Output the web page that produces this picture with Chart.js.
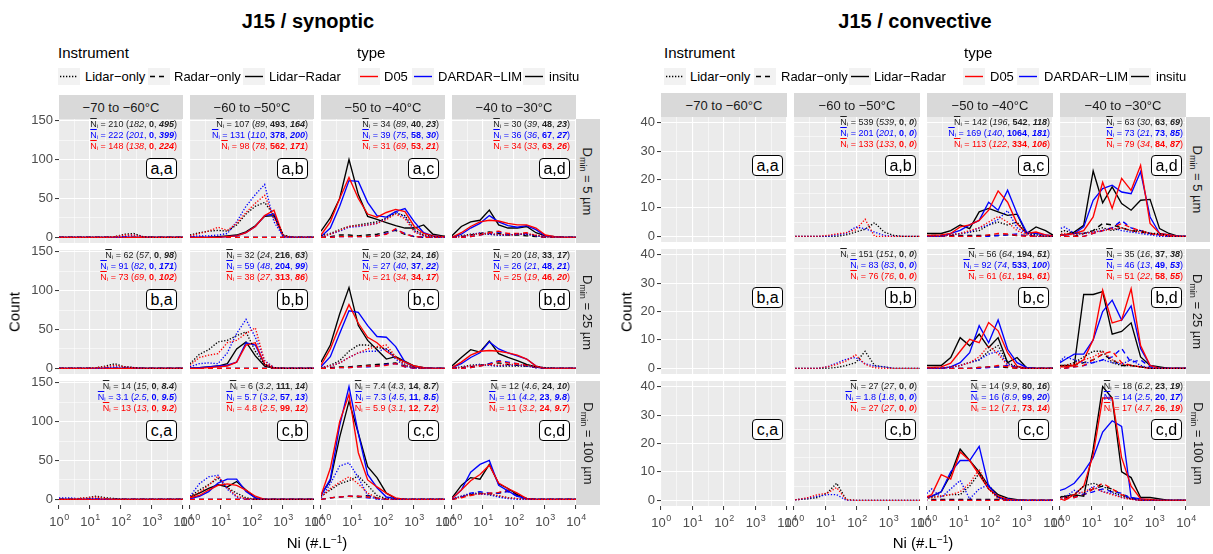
<!DOCTYPE html>
<html>
<head>
<meta charset="utf-8">
<script src="https://cdn.jsdelivr.net/npm/chart.js@4.4.1/dist/chart.umd.min.js"></script>
<style>
  body { margin: 0; width: 1213px; height: 554px; background: #fff; position: relative; overflow: hidden;
         font-family: "Liberation Sans", Arial, sans-serif; color: #000; }
  canvas, .abs { position: absolute; }
  .title { font-weight: bold; font-size: 20px; transform: translate(-50%, -50%); white-space: nowrap; }
  .ltitle { font-size: 15px; transform: translateY(-50%); white-space: nowrap; }
  .ltext { font-size: 13px; transform: translateY(-50%); white-space: nowrap; }
  .key { background: #f2f2f2; }
  .strip { background: #d9d9d9; color: #1a1a1a; font-size: 13px; display: flex; align-items: center; justify-content: center; white-space: nowrap; }
  .rot { display: inline-block; transform: rotate(90deg); white-space: nowrap; }
  .rot sub { font-size: 9px; vertical-align: -3px; line-height: 0; }
  .lab { border: 1px solid #000; border-radius: 4px; background: #fff; font-size: 16px; display: flex;
         align-items: center; justify-content: center; box-sizing: border-box; }
  .ann { font-size: 9px; line-height: 11px; text-align: right; white-space: nowrap; }
  .ann .ov { text-decoration: overline; }
  .ann sub { font-size: 6px; vertical-align: -1px; line-height: 0; }
  .axt { font-size: 15px; white-space: nowrap; transform: translate(-50%, -50%); }
  .axt sup { font-size: 10px; vertical-align: 5px; line-height: 0; }
</style>
</head>
<body>
<script>
// ---- scales / categories ----
const synBins = [1, 2, 4, 8, 16, 32, 64, 128, 256, 512, 1024, 2048, 4096, 8192, 16384];
const convBins = [0.707, 1.414, 2.83, 5.66, 11.3, 22.6, 45.3, 90.5, 181, 362, 724, 1448, 2896, 5793, 11585];
const xGrid = [1, 3.162, 10, 31.62, 100, 316.2, 1000, 3162, 10000];
const xLabels = [1, 10, 100, 1000, 10000];
const synYGrid = [0, 25, 50, 75, 100, 125, 150];
const convYGrid = [0, 5, 10, 15, 20, 25, 30, 35, 40];
const temps = ['\u221270 to \u221260\u00b0C', '\u221260 to \u221250\u00b0C', '\u221250 to \u221240\u00b0C', '\u221240 to \u221230\u00b0C'];
const dmins = ['5', '25', '100'];
const instruments = ['Lidar\u2212only', 'Radar\u2212only', 'Lidar\u2212Radar'];
const types = ['D05', 'DARDAR\u2212LIM', 'insitu'];

const Z = [0,0,0,0,0,0,0,0,0,0,0,0,0,0,0];

// ---- synoptic counts: [Lidar-only, Radar-only, Lidar-Radar] ----
const syn_aa_D05 = [[0,0,0,0,0,0,1,3,3,1,0,0,0,0,0], Z, Z];
const syn_aa_DAR = [[0,0,0,0,0,0,0,1,3,1,0,0,0,0,0], Z, Z];
const syn_aa_ins = [[0,0,0,0,0,0,1,4,5,1,0,0,0,0,0], Z, Z];
const syn_ab_D05 = [[2,5,8,13,9,18,32,44,54,25,2,0,0,0,0], Z, [0,0,0,0,1,2,6,14,28,35,1,0,0,0,0]];
const syn_ab_DAR = [[1,2,2,3,5,20,40,55,68,20,1,0,0,0,0], Z, [0,0,0,0,1,2,6,14,28,30,1,0,0,0,0]];
const syn_ab_ins = [[3,6,8,9,8,16,30,40,45,28,3,0,0,0,0], Z, [0,0,0,1,2,3,7,15,27,28,2,0,0,0,0]];
const syn_ac_D05 = [[1,4,9,14,15,16,18,23,30,24,7,2,0,0,0], [0,0,1,1,1,1,2,4,11,4,1,0,0,0,0], [3,20,50,77,50,30,26,32,36,33,14,5,2,1,0]];
const syn_ac_DAR = [[1,4,8,13,14,16,18,24,33,26,8,2,0,0,0], [0,0,1,1,1,1,2,5,10,5,1,0,0,0,0], [1,12,40,73,72,45,28,26,33,37,20,6,2,1,0]];
const syn_ac_ins = [[2,5,10,14,16,18,20,25,31,28,10,3,1,0,0], [0,1,3,3,2,3,4,7,9,4,1,0,0,0,0], [8,25,50,100,55,27,23,19,15,12,12,16,4,2,0]];
const syn_ad_D05 = [[0,1,3,5,5,4,3,4,5,3,1,0,0,0,0], [0,0,1,3,6,8,5,5,6,2,0,0,0,0,0], [0,6,14,20,22,21,18,16,16,12,3,1,0,0,0]];
const syn_ad_DAR = [[0,1,3,6,4,3,3,4,4,2,1,0,0,0,0], [0,0,1,3,5,7,4,4,5,2,0,0,0,0,0], [0,4,12,18,28,20,15,13,15,10,2,1,0,0,0]];
const syn_ad_ins = [[0,2,4,5,4,3,3,4,4,2,1,0,0,0,0], [0,1,3,5,7,5,3,3,2,1,0,0,0,0,0], [2,14,20,22,35,16,12,12,14,6,2,1,0,0,0]];
const syn_ba_D05 = [[0,0,0,0,1,2,4,2,1,0,0,0,0,0,0], Z, Z];
const syn_ba_DAR = [[0,0,0,0,0,1,2,2,1,0,0,0,0,0,0], Z, Z];
const syn_ba_ins = [[0,0,0,0,1,3,6,2,1,0,0,0,0,0,0], Z, Z];
const syn_bb_D05 = [[4,14,17,19,33,36,45,52,9,1,0,0,0,0,0], Z, [0,0,1,2,3,8,30,33,5,0,0,0,0,0,0]];
const syn_bb_DAR = [[2,6,7,6,20,45,63,40,10,1,0,0,0,0,0], Z, [0,1,2,3,4,8,33,30,5,0,0,0,0,0,0]];
const syn_bb_ins = [[6,18,24,34,36,42,47,22,5,1,0,0,0,0,0], Z, [0,1,2,3,6,25,34,16,3,0,0,0,0,0,0]];
const syn_bc_D05 = [[1,3,7,14,20,25,28,30,15,4,1,0,0,0,0], [0,0,1,1,2,3,3,4,6,2,0,0,0,0,0], [4,25,55,82,58,40,33,22,14,8,3,1,0,0,0]];
const syn_bc_DAR = [[1,3,7,14,20,22,22,25,12,3,0,0,0,0,0], [0,0,1,1,2,2,3,5,6,2,0,0,0,0,0], [2,15,45,74,72,55,41,40,28,8,2,1,0,0,0]];
const syn_bc_ins = [[1,4,10,22,30,30,27,25,15,5,1,0,0,0,0], [0,1,2,2,3,4,5,6,7,3,1,0,0,0,0], [8,30,70,104,55,36,24,12,15,9,3,1,0,0,0]];
const syn_bd_D05 = [[0,1,3,4,5,4,5,5,4,2,0,0,0,0,0], [0,0,1,3,5,9,7,6,4,1,0,0,0,0,0], [1,8,17,22,23,22,20,17,12,3,0,0,0,0,0]];
const syn_bd_DAR = [[0,1,3,5,4,3,4,4,3,1,0,0,0,0,0], [0,0,1,3,6,10,8,6,4,1,0,0,0,0,0], [1,6,14,20,34,25,20,16,12,3,0,0,0,0,0]];
const syn_bd_ins = [[0,2,4,5,4,3,3,3,3,2,1,0,0,0,0], [0,1,2,4,6,7,5,4,3,1,0,0,0,0,0], [3,14,24,21,35,19,14,10,5,2,0,0,0,0,0]];
const syn_ca_D05 = [[0,0,1,2,3,1,0,0,0,0,0,0,0,0,0], Z, Z];
const syn_ca_DAR = [[2,2,1,1,1,0,0,0,0,0,0,0,0,0,0], Z, Z];
const syn_ca_ins = [[0,0,1,2,4,2,1,0,0,0,0,0,0,0,0], Z, Z];
const syn_cb_D05 = [[3,9,18,30,15,4,1,0,0,0,0,0,0,0,0], Z, [2,5,12,18,20,18,12,4,0,0,0,0,0,0,0]];
const syn_cb_DAR = [[4,20,29,31,13,3,0,0,0,0,0,0,0,0,0], Z, [1,4,10,21,26,26,10,2,0,0,0,0,0,0,0]];
const syn_cb_ins = [[4,12,19,27,15,8,2,0,0,0,0,0,0,0,0], Z, [3,8,14,19,16,23,12,2,0,0,0,0,0,0,0]];
const syn_cc_D05 = [[3,14,22,29,20,8,2,0,0,0,0,0,0,0,0], [0,2,3,4,4,3,1,0,0,0,0,0,0,0,0], [5,40,100,135,60,25,16,8,2,0,0,0,0,0,0]];
const syn_cc_DAR = [[2,20,43,47,28,5,0,0,0,0,0,0,0,0,0], [0,2,3,4,4,2,1,0,0,0,0,0,0,0,0], [5,26,95,145,85,32,15,3,1,0,0,0,0,0,0]];
const syn_cc_ins = [[4,12,20,24,30,18,5,1,0,0,0,0,0,0,0], [0,2,3,4,3,5,2,0,0,0,0,0,0,0,0], [6,24,80,126,85,42,28,8,1,0,0,0,0,0,0]];
const syn_cd_D05 = [[0,3,6,7,7,5,2,1,0,0,0,0,0,0,0], [0,2,5,7,8,9,12,6,1,0,0,0,0,0,0], [1,12,24,32,44,21,14,8,1,0,0,0,0,0,0]];
const syn_cd_DAR = [[0,4,8,7,6,3,1,0,0,0,0,0,0,0,0], [0,3,8,10,8,8,10,4,0,0,0,0,0,0,0], [1,12,35,45,50,18,11,4,1,0,0,0,0,0,0]];
const syn_cd_ins = [[0,4,7,8,6,4,2,1,0,0,0,0,0,0,0], [0,3,6,8,7,8,11,5,1,0,0,0,0,0,0], [2,18,28,26,45,20,14,6,1,0,0,0,0,0,0]];

// ---- convective counts ----
const conv_ab_D05 = [[0,0,0,0,0.3,0.8,1.3,2.3,6,0,0,0,0,0,0], null, null];
const conv_ab_DAR = [[0,0,0,0,0,0.5,1,3.3,2.7,1.5,0.3,0,0,0,0], null, null];
const conv_ab_ins = [[0,0,0,0,0,0,0.5,1.5,2.5,4.8,1.5,0.3,0,0,0], null, null];
const conv_ac_D05 = [[0,0,0,0.5,1,2,3,5,7,5,2,0.5,0,0,0], [0,0,0,0,0,0,0,0.5,1,0.8,0.3,0,0,0,0], [0.3,0.3,0.5,1,3.3,4,5.6,9.2,16,12,4.5,1,1.5,0.5,0]];
const conv_ac_DAR = [[0,0,0,0.5,1,1.5,3,4,6,9,3,1,0,0,0], [0,0,0,0,0,0,0,0,0.3,0.5,0.8,0,0,0,0], [0,0,0,1,2.1,4,5.6,12,9.2,16.2,8,1.5,1,0.5,0]];
const conv_ac_ins = [[0,0,0,0.5,1,1.5,2,4,5,4,5,1,0.5,0,0], [0.3,0.3,0.3,0.3,0.3,0.3,0.3,0.3,0.3,0.5,0.3,0.3,0,0,0], [1,1,1,2,4,2.7,8.6,9.8,8.6,7.4,7.8,1,3.3,2,0]];
const conv_ad_D05 = [[0.5,1,0.5,1,1.5,2,2.5,3,2,1.5,1,0.5,0,0,0], [0,0,0,0,1,2,3,4.5,3,2,1,0.5,0,0,0], [0,0.5,1,2,6.8,19,9.8,20.4,16.2,25,4.5,1,0.5,0,0]];
const conv_ad_DAR = [[2,3.3,1,1,1.5,2,3,2,1.5,1,0.5,0,0,0,0], [0,0,0,0,1,2,3,5.5,3,2,1,0.5,0,0,0], [0,0.5,1,3.3,12.7,16.8,18,15.6,15,22.7,6.8,1,0.5,0,0]];
const conv_ad_ins = [[1,2,1,1,2,3,2,3,2,2,1,1,0,0,0], [0,0,0,1,2,4.5,4,3,2,1.5,1,0.5,0,0,0], [0.5,0.5,1.5,3.9,23,11.8,17.4,11.5,9.2,12.7,13,2.7,1,0,0]];
const conv_bb_D05 = [[0,0,0,0,0.5,1.4,2.6,4.7,1.4,0.2,0,0,0,0,0], null, null];
const conv_bb_DAR = [[0,0,0,0,0.5,1.8,3.2,3.8,1.6,0.8,0.5,0,0,0,0], null, null];
const conv_bb_ins = [[0,0,0,0,0,0.3,1,2,6,1,0.5,0,0,0,0], null, null];
const conv_bc_D05 = [[0,0,0,0.5,1,2,4,8,5,1,0.3,0,0,0,0], [0,0,0,0,0,0,0.3,0.5,1,0.5,0,0,0,0,0], [0.3,0.3,0.5,1.8,6,10.2,9,16.1,13.2,5.5,0.8,0,0,0,0]];
const conv_bc_DAR = [[0,0,0,0.3,1,2,3,5,6,1.5,0.3,0,0,0,0], [0,0,0,0,0,0,0,0.3,0.5,1,0.3,0,0,0,0], [0,0,0,0.5,2,5.5,15,9,17,6.7,2,0.3,0,0,0]];
const conv_bc_ins = [[0,0,0,0.5,1,2,3,6,8,2,0.5,0,0,0,0], [0,0,0,0,0,0,0.3,0.5,0.5,0.3,0,0,0,0,0], [1,1,1,3.8,10.8,7.9,12,7.3,10.8,2,3.8,0.2,0,0,0]];
const conv_bd_D05 = [[0.5,1,1.5,3,4,6,3,1.5,1,0.5,0,0,0,0,0], [0,0,0.5,1,3,5,6,2,1,0.5,0,0,0,0,0], [0.5,0.5,1,3,10,27.5,16,17,28,8,1,0,0,0,0]];
const conv_bd_DAR = [[1,4,3,2,2,3,2,1.5,3,1,0,0,0,0,0], [0,0,0.5,1,2,3,4,7,2,3,0.5,0,0,0,0], [1,3,5,5,10,20,24,17,22,7,1,0,0,0,0]];
const conv_bd_ins = [[0.5,1,2,4,6,6,2,1,1,0.5,0,0,0,0,0], [0,0,1,2,3,5,3,1,1,0.5,0,0,0,0,0], [1,1,1,26,26,27,12,13,16,4,1,0.5,0,0,0]];
const conv_cb_D05 = [[0,0.3,1,2,2.5,4.5,0.2,0,0,0,0,0,0,0,0], null, null];
const conv_cb_DAR = [[0,0.3,0.8,1.4,2,2,0,0,0,0,0,0,0,0,0], null, null];
const conv_cb_ins = [[0,0.3,0.5,1,2.6,6,0.3,0,0,0,0,0,0,0,0], null, null];
const conv_cc_D05 = [[0.5,1,1.5,2,3,6,11,4,0.5,0,0,0,0,0,0], Z, [0.5,2,9,7.5,17,14,9,4,1.5,0.3,0,0,0,0,0]];
const conv_cc_DAR = [[1,4,1,4,7,0.5,4,5.5,1,0,0,0,0,0,0], Z, [0.5,1.5,3,10,14,14,19,5,1,0.5,0,0,0,0,0]];
const conv_cc_ins = [[0.5,1,1.5,2,2,5,9.5,4,1,0,0,0,0,0,0], [0.3,0.3,0.3,0.3,0.3,0.3,0.3,0.3,0.3,0,0,0,0,0,0], [0.8,1.4,3,9,18,14,10,5,2,0.8,0.2,0,0,0,0]];
const conv_cd_D05 = [[0.5,1,2,3,4.5,3,2,1,0.3,0,0,0,0,0,0], [0,0.5,1,2,4,6,4,2,0.5,0,0,0,0,0,0], [1,0,2,5,16,36,36,15,5,0.5,0.3,0,0,0,0]];
const conv_cd_DAR = [[0.5,1,3.5,2,5,3,2.5,1,0.5,0,0,0,0,0,0], [0,0.5,1,2,3,4,3,2.5,0.5,0,0,0,0,0,0], [3,4,6,10,15,24,28,26,1,0.5,0,0,0,0,0]];
const conv_cd_ins = [[1,1.5,2,5,6,5,3,1.5,0.5,0,0,0,0,0,0], [0.5,1,1.5,2,4,5,4,2,1,0,0,0,0,0,0], [0.8,1.4,2,1.4,18,40,36,10,8,1,1,0.5,0,0,0]];

// ---- mean Ni labels: [mean, Lidar-only, Radar-only, Lidar-Radar] for insitu, DARDAR-LIM, D05 ----
const synNbar = [
  [['210','182','0','495'], ['222','201','0','399'], ['148','138','0','224']],
  [['107','89','493','164'], ['131','110','378','200'], ['98','78','562','171']],
  [['34','89','40','23'], ['39','75','58','30'], ['31','69','53','21']],
  [['30','39','48','23'], ['36','36','67','27'], ['34','33','63','26']],
  [['62','57','0','98'], ['91','82','0','171'], ['73','69','0','102']],
  [['32','24','216','63'], ['59','48','204','99'], ['38','27','313','86']],
  [['20','32','24','16'], ['27','40','37','22'], ['21','34','34','17']],
  [['20','18','33','17'], ['26','21','48','21'], ['25','19','46','20']],
  [['14','15','0','8.4'], ['3.1','2.5','0','9.5'], ['13','13','0','9.2']],
  [['6','3.2','111','14'], ['5.7','3.2','57','13'], ['4.8','2.5','99','12']],
  [['7.4','4.3','14','8.7'], ['7.3','4.5','11','8.5'], ['5.9','3.1','12','7.2']],
  [['12','4.6','24','10'], ['11','4.2','23','9.8'], ['11','3.2','24','9.7']]
];
const convNbar = [
  null,
  [['539','539','0','0'], ['201','201','0','0'], ['133','133','0','0']],
  [['142','196','542','118'], ['169','140','1064','181'], ['113','122','334','106']],
  [['63','30','63','69'], ['73','21','73','85'], ['79','34','84','87']],
  null,
  [['151','151','0','0'], ['83','83','0','0'], ['76','76','0','0']],
  [['56','64','194','51'], ['92','74','533','100'], ['61','61','194','61']],
  [['35','16','37','38'], ['46','13','49','53'], ['51','22','58','55']],
  null,
  [['27','27','0','0'], ['1.8','1.8','0','0'], ['27','27','0','0']],
  [['14','9.9','80','16'], ['16','8.9','99','20'], ['12','7.1','73','14']],
  [['18','6.2','23','19'], ['14','2.5','20','17'], ['17','4.7','26','19']]
];

const synFacets = [
  [syn_aa_D05, syn_aa_DAR, syn_aa_ins], [syn_ab_D05, syn_ab_DAR, syn_ab_ins], [syn_ac_D05, syn_ac_DAR, syn_ac_ins], [syn_ad_D05, syn_ad_DAR, syn_ad_ins],
  [syn_ba_D05, syn_ba_DAR, syn_ba_ins], [syn_bb_D05, syn_bb_DAR, syn_bb_ins], [syn_bc_D05, syn_bc_DAR, syn_bc_ins], [syn_bd_D05, syn_bd_DAR, syn_bd_ins],
  [syn_ca_D05, syn_ca_DAR, syn_ca_ins], [syn_cb_D05, syn_cb_DAR, syn_cb_ins], [syn_cc_D05, syn_cc_DAR, syn_cc_ins], [syn_cd_D05, syn_cd_DAR, syn_cd_ins]
];
const convFacets = [
  null, [conv_ab_D05, conv_ab_DAR, conv_ab_ins], [conv_ac_D05, conv_ac_DAR, conv_ac_ins], [conv_ad_D05, conv_ad_DAR, conv_ad_ins],
  null, [conv_bb_D05, conv_bb_DAR, conv_bb_ins], [conv_bc_D05, conv_bc_DAR, conv_bc_ins], [conv_bd_D05, conv_bd_DAR, conv_bd_ins],
  null, [conv_cb_D05, conv_cb_DAR, conv_cb_ins], [conv_cc_D05, conv_cc_DAR, conv_cc_ins], [conv_cd_D05, conv_cd_DAR, conv_cd_ins]
];

// ---- styling / layout ----
const FONT = '"Liberation Sans", Arial, sans-serif';
const TYPE_COLORS = ['#ff0000', '#0000ff', '#000000'];
const TEXT_COLORS = ['#ff0000', '#0000ff', '#222222'];
const DASHES = [[1.3, 1.7], [5, 4], []];

const panels = [
  { title: 'J15 / synoptic', titleX: 308, bins: synBins, facets: synFacets, nbar: synNbar,
    cols: [59, 190, 321, 452], rows: [119, 250, 381], w: 124, h: 124,
    ymin: -7.25, ymax: 152.25, yGrid: synYGrid, yMajor: 50, annRight: 6, labRight: 6, labTop: 39,
    countX: 14, niX: 317,
    legend: { x0: 58, keys: [58, 148, 243], texts: [85, 174, 269], tx0: 357, tkeys: [358, 412, 523], ttexts: [384, 438, 549] } },
  { title: 'J15 / convective', titleX: 915, bins: convBins, facets: convFacets, nbar: convNbar,
    cols: [661, 794, 927, 1060], rows: [117, 249, 381], w: 126, h: 125,
    ymin: -2, ymax: 42, yGrid: convYGrid, yMajor: 10, annRight: 3, labRight: 4, labTop: 38,
    countX: 626, niX: 923,
    legend: { x0: 664, keys: [664, 754, 849], texts: [690, 781, 874], tx0: 964, tkeys: [963, 1017, 1129], ttexts: [990, 1044, 1156] } }
];

const isDecade = v => Math.abs(Math.log10(v) - Math.round(Math.log10(v))) < 1e-6;

const panelBg = {
  id: 'panelBg',
  beforeDraw(chart) {
    const { ctx, chartArea: a } = chart;
    ctx.save();
    ctx.fillStyle = '#ebebeb';
    ctx.fillRect(a.left, a.top, a.width, a.height);
    ctx.restore();
  }
};

// x tick labels drawn as 10 + raised exponent at the log scale's positions
const expLabels = {
  id: 'expLabels',
  afterDraw(chart, args, opts) {
    if (!opts.on) return;
    const xs = chart.scales.x, c = chart.ctx;
    const y = chart.chartArea.bottom + 21;
    c.save();
    c.fillStyle = '#4d4d4d';
    c.textBaseline = 'alphabetic';
    xLabels.forEach(v => {
      const px = xs.getPixelForValue(v);
      const e = String(Math.round(Math.log10(v)));
      c.font = '13px ' + FONT;
      const w1 = c.measureText('10').width;
      c.font = '9px ' + FONT;
      const w2 = c.measureText(e).width;
      const x0 = px - (w1 + w2) / 2;
      c.font = '13px ' + FONT;
      c.fillText('10', x0, y);
      c.font = '9px ' + FONT;
      c.fillText(e, x0 + w1 + 0.5, y - 6);
    });
    c.restore();
  }
};

function addDiv(cls, html, style) {
  const d = document.createElement('div');
  d.className = 'abs ' + cls;
  d.innerHTML = html;
  Object.assign(d.style, style);
  document.body.appendChild(d);
  return d;
}

function keySvg(x, y, color, dash) {
  const d = document.createElement('div');
  d.className = 'abs key';
  Object.assign(d.style, { left: x + 'px', top: (y - 8.5) + 'px', width: '22px', height: '17px' });
  d.innerHTML = `<svg width="22" height="17"><line x1="2" y1="8.5" x2="20" y2="8.5" stroke="${color}" stroke-width="1.4" stroke-dasharray="${dash.join(',')}"/></svg>`;
  document.body.appendChild(d);
}

function facetChart(p, r, c) {
  const left = c === 0, bottom = r === 2;
  const PAD = 12, YW = 36, XH = 30;
  const extraL = left ? YW : 0, extraB = bottom ? XH : 0;
  const W = p.w + 2 * PAD + extraL, H = p.h + 2 * PAD + extraB;
  const cv = document.createElement('canvas');
  cv.width = W; cv.height = H;
  Object.assign(cv.style, { left: (p.cols[c] - PAD - extraL) + 'px', top: (p.rows[r] - PAD) + 'px', width: W + 'px', height: H + 'px' });
  document.body.appendChild(cv);

  const series = p.facets[r * 4 + c];
  const datasets = [];
  if (series) {
    for (const inst of [0, 2, 1]) {
      for (let t = 0; t < 3; t++) {
        const arr = series[t][inst];
        if (!arr) continue;
        datasets.push({
          data: p.bins.map((x, k) => ({ x, y: arr[k] })),
          borderColor: TYPE_COLORS[t], borderWidth: 1.35, borderDash: DASHES[inst],
          pointRadius: 0, tension: 0, fill: false
        });
      }
    }
  }

  new Chart(cv, {
    type: 'line',
    data: { datasets },
    options: {
      responsive: false, animation: false, events: [],
      layout: { padding: { left: PAD, right: PAD, top: PAD, bottom: PAD } },
      plugins: { legend: { display: false }, tooltip: { enabled: false }, expLabels: { on: bottom } },
      scales: {
        x: {
          type: 'logarithmic', min: 1, max: 10000,
          afterBuildTicks: ax => { ax.ticks = xGrid.map(v => ({ value: v })); },
          afterFit: ax => { ax.height = extraB; },
          border: { display: false },
          grid: {
            color: '#ffffff', lineWidth: ctx => isDecade(ctx.tick.value) ? 1.1 : 0.55,
            drawTicks: bottom, tickLength: 4, tickWidth: 1,
            tickColor: ctx => isDecade(ctx.tick.value) ? '#333333' : 'rgba(0,0,0,0)'
          },
          ticks: { display: false }
        },
        y: {
          type: 'linear', min: p.ymin, max: p.ymax,
          afterBuildTicks: ax => { ax.ticks = p.yGrid.map(v => ({ value: v })); },
          afterFit: ax => { ax.width = extraL; },
          border: { display: false },
          grid: {
            color: '#ffffff', lineWidth: ctx => ctx.tick.value % p.yMajor === 0 ? 1.1 : 0.55,
            drawTicks: left, tickLength: 4, tickWidth: 1,
            tickColor: ctx => ctx.tick.value % p.yMajor === 0 ? '#333333' : 'rgba(0,0,0,0)'
          },
          ticks: {
            display: left, padding: 2, color: '#4d4d4d', font: { size: 13, family: FONT },
            callback: v => v % p.yMajor === 0 ? String(v) : ''
          }
        }
      }
    },
    plugins: [panelBg, expLabels]
  });
}

panels.forEach(p => {
  for (let r = 0; r < 3; r++) for (let c = 0; c < 4; c++) facetChart(p, r, c);

  // titles and legends
  addDiv('title', p.title, { left: p.titleX + 'px', top: '21px' });
  const L = p.legend;
  addDiv('ltitle', 'Instrument', { left: L.x0 + 'px', top: '52px' });
  addDiv('ltitle', 'type', { left: L.tx0 + 'px', top: '52px' });
  const KY = 76;
  instruments.forEach((name, i) => {
    keySvg(L.keys[i], KY, '#000', DASHES[i]);
    addDiv('ltext', name, { left: L.texts[i] + 'px', top: KY + 'px' });
  });
  types.forEach((name, t) => {
    keySvg(L.tkeys[t], KY, TYPE_COLORS[t], []);
    addDiv('ltext', name, { left: L.ttexts[t] + 'px', top: KY + 'px' });
  });

  // strips
  temps.forEach((tname, c) => {
    addDiv('strip', tname, { left: p.cols[c] + 'px', top: (p.rows[0] - 24) + 'px', width: p.w + 'px', height: '24px' });
  });
  dmins.forEach((d, r) => {
    addDiv('strip', `<span class="rot">D<sub>min</sub> = ${d} \u00b5m</span>`,
      { left: (p.cols[3] + p.w) + 'px', top: p.rows[r] + 'px', width: '24px', height: p.h + 'px' });
  });

  // facet labels and mean-Ni annotations
  for (let r = 0; r < 3; r++) for (let c = 0; c < 4; c++) {
    const right = p.cols[c] + p.w;
    addDiv('lab', 'abc'[r] + ',' + 'abcd'[c], { left: (right - p.labRight - 31) + 'px', top: (p.rows[r] + p.labTop) + 'px', width: '31px', height: '21px' });
    const nb = p.nbar[r * 4 + c];
    if (nb) {
      const order = [2, 1, 0];
      const html = nb.map((v, i) =>
        `<div style="color:${TEXT_COLORS[order[i]]}"><span class="ov">N</span><sub>i</sub> = ${v[0]} (<i>${v[1]}</i>, <b>${v[2]}</b>, <b><i>${v[3]}</i></b>)</div>`).join('');
      addDiv('ann', html, { right: (1213 - right + p.annRight) + 'px', top: p.rows[r] + 'px' });
    }
  }

  // axis titles
  const midY = (p.rows[0] + p.rows[2] + p.h) / 2;
  addDiv('axt', 'Count', { left: p.countX + 'px', top: midY + 'px', transform: 'translate(-50%,-50%) rotate(-90deg)' });
  addDiv('axt', 'Ni (#.L<sup>\u22121</sup>)', { left: p.niX + 'px', top: '542px' });
});
</script>
</body>
</html>
